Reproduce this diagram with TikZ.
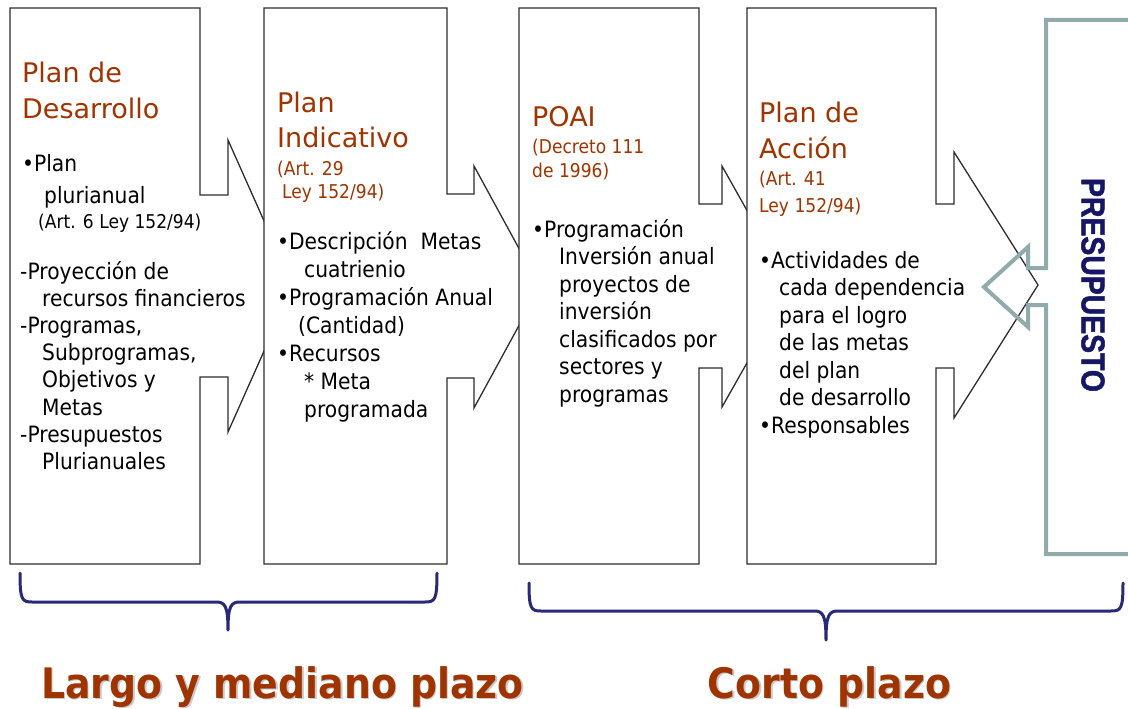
\documentclass[tikz,border=0pt]{standalone}
\usepackage{fontspec}
\setmainfont{DejaVu Sans}[FakeStretch=0.9]
\newfontfamily\titlefont{DejaVu Sans}
\newfontfamily\presfont{Liberation Sans}[FakeStretch=0.86, BoldFeatures={FakeBold=1.5}]
\definecolor{brn}{RGB}{160,52,0}
\definecolor{bracec}{RGB}{40,42,120}
\definecolor{presc}{RGB}{22,22,100}
\definecolor{greyc}{RGB}{145,170,172}
\definecolor{boxline}{RGB}{45,45,45}
\tikzset{
  boxst/.style={draw=boxline, line width=1.3pt, fill=white, line join=miter},
  greyst/.style={draw=greyc, line width=4pt, line join=miter},
  bracest/.style={draw=bracec, line width=3pt, line cap=round, line join=round},
  txt/.style={anchor=base west, inner sep=0pt, align=left},
  titletxt/.style={txt, text=brn, font=\titlefont\fontsize{27}{36}\selectfont},
  smalltxt/.style={txt, text=brn, font=\fontsize{19}{24}\selectfont},
  bodytxt/.style={txt, text=black, font=\fontsize{22.5}{27.6}\selectfont},
  bottomtxt/.style={anchor=base, inner sep=0pt, text=brn, font=\bfseries\fontsize{42}{50}\selectfont},
  shadowtxt/.style={anchor=base, inner sep=0pt, text=black!35, font=\bfseries\fontsize{42}{50}\selectfont}
}
\begin{document}
\begin{tikzpicture}[x=1pt,y=-1pt]
\useasboundingbox (0,0) rectangle (1128,709);
\clip (0,0) rectangle (1128,709);
\fill[white] (0,0) rectangle (1128,709);
% boxes
\draw[boxst] (10,8) -- (200,8) -- (200,195) -- (228,195) -- (228,140) -- (293,286) -- (228,432) -- (228,377) -- (200,377) -- (200,564) -- (10,564) -- cycle;
\draw[boxst] (264,8) -- (447,8) -- (447,194) -- (474,194) -- (474,166) -- (540,287) -- (474,408) -- (474,378) -- (447,378) -- (447,564) -- (264,564) -- cycle;
\draw[boxst] (519,8) -- (699,8) -- (699,204) -- (722,204) -- (722,166) -- (790,287) -- (722,407) -- (722,368) -- (699,368) -- (699,564) -- (519,564) -- cycle;
\draw[boxst] (747,8) -- (936,8) -- (936,204) -- (954,204) -- (954,152) -- (1038,285) -- (954,418) -- (954,368) -- (936,368) -- (936,564) -- (747,564) -- cycle;
% presupuesto
\draw[greyst] (1140,20) -- (1046,20) -- (1046,268) -- (1028,268) -- (1028,247) -- (984,287) -- (1028,327) -- (1028,305) -- (1046,305) -- (1046,554) -- (1140,554);
\node[rotate=-90, inner sep=0pt, text=presc, font=\presfont\bfseries\fontsize{33}{33}\selectfont] (pres) at (1093,285) {PRESUPUESTO};
% box 1 text (multi-line nodes: base = last line)
\node[titletxt] (t1) at (22,118) {Plan de\\Desarrollo};
\node[bodytxt] (b1a) at (22,171) {•Plan};
\node[bodytxt] (b1b) at (44,203) {plurianual};
\node[txt, font=\fontsize{19}{24}\selectfont] (s1) at (38,228) {(Art. 6 Ley 152/94)};
\node[bodytxt, font=\fontsize{22.5}{27.2}\selectfont] (b1c) at (20,469.4) {-Proyección de\\\hspace*{22pt}recursos financieros\\-Programas,\\\hspace*{22pt}Subprogramas,\\\hspace*{22pt}Objetivos y\\\hspace*{22pt}Metas\\-Presupuestos\\\hspace*{22pt}Plurianuales};
% box 2 text
\node[titletxt, font=\titlefont\fontsize{27}{35}\selectfont] (t2) at (277,147) {Plan\\Indicativo};
\node[smalltxt, font=\fontsize{19}{23}\selectfont] (s2) at (277,198) {(Art. 29\\\hspace*{5pt}Ley 152/94)};
\node[bodytxt, font=\fontsize{22.5}{28}\selectfont] (b2) at (277,417) {•Descripción~~Metas\\\hspace*{27pt}cuatrienio\\•Programación Anual\\\hspace*{21pt}(Cantidad)\\•Recursos\\\hspace*{27pt}* Meta\\\hspace*{27pt}programada};
% box 3 text
\node[titletxt] (t3) at (532,126) {POAI};
\node[smalltxt] (s3) at (532,177) {(Decreto 111\\de 1996)};
\node[bodytxt, font=\fontsize{22.5}{27.5}\selectfont] (b3) at (532,402) {•Programación\\\hspace*{27pt}Inversión anual\\\hspace*{27pt}proyectos de\\\hspace*{27pt}inversión\\\hspace*{27pt}clasificados por\\\hspace*{27pt}sectores y\\\hspace*{27pt}programas};
% box 4 text
\node[titletxt] (t4) at (759,158) {Plan de\\Acción};
\node[smalltxt, font=\fontsize{19}{27}\selectfont] (s4) at (759,212) {(Art. 41\\Ley 152/94)};
\node[bodytxt, font=\fontsize{22.5}{27.5}\selectfont] (b4) at (759,433) {•Actividades de\\\hspace*{20pt}cada dependencia\\\hspace*{20pt}para el logro\\\hspace*{20pt}de las metas\\\hspace*{20pt}del plan\\\hspace*{20pt}de desarrollo\\•Responsables};
% braces
\draw[bracest] (20,573) .. controls (20,600) and (22,602) .. (32,602) -- (216,602) .. controls (225,602) and (228,606) .. (228,630) .. controls (228,606) and (231,602) .. (240,602) -- (425,602) .. controls (435,602) and (437,600) .. (437,573);
\draw[bracest] (529,583) .. controls (529,609) and (531,611) .. (541,611) -- (814,611) .. controls (823,611) and (826,615) .. (826,640) .. controls (826,615) and (829,611) .. (838,611) -- (1111,611) .. controls (1121,611) and (1123,609) .. (1123,583);
% bottom labels
\node[shadowtxt, opacity=0.6] (l1s) at (284,699.5) {Largo y mediano plazo};
\node[bottomtxt] (l1) at (282.5,698) {Largo y mediano plazo};
\node[shadowtxt, opacity=0.6] (l2s) at (831,699.5) {Corto plazo};
\node[bottomtxt] (l2) at (829.5,698) {Corto plazo};
\end{tikzpicture}
\end{document}
